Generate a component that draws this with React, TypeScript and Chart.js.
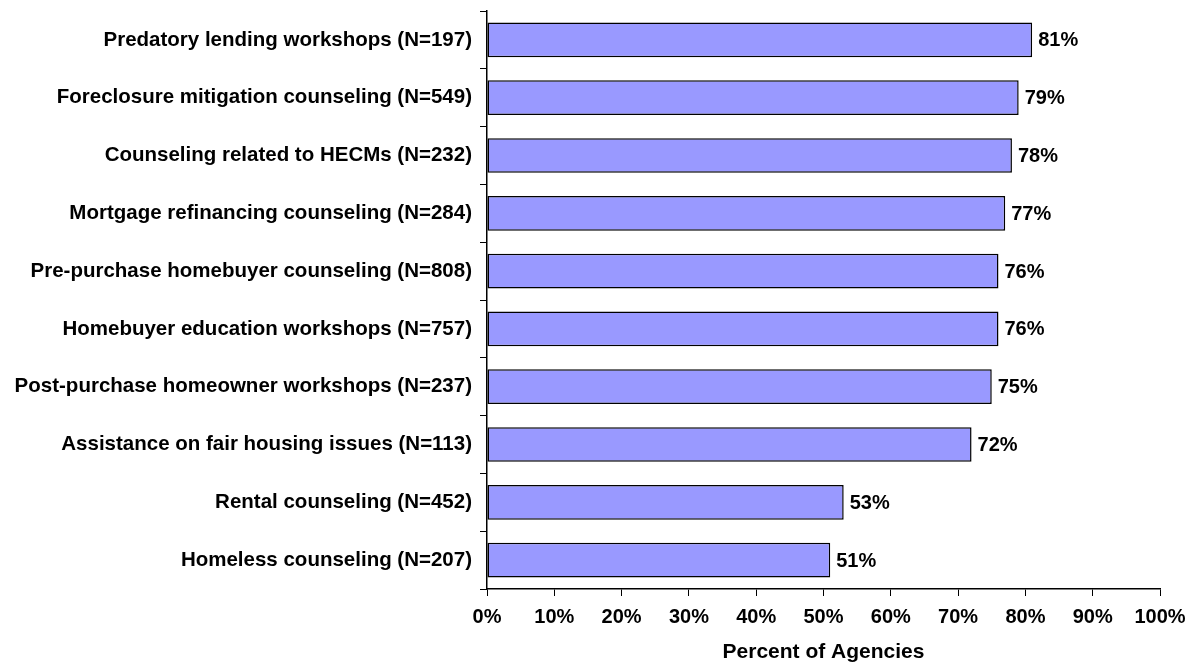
import React, { useEffect, useRef } from "react";
import { Chart, registerables } from "chart.js";

Chart.register(...registerables);

const categories = [
  "Predatory lending workshops (N=197)",
  "Foreclosure mitigation counseling (N=549)",
  "Counseling related to HECMs (N=232)",
  "Mortgage refinancing counseling (N=284)",
  "Pre-purchase homebuyer counseling (N=808)",
  "Homebuyer education workshops (N=757)",
  "Post-purchase homeowner workshops (N=237)",
  "Assistance on fair housing issues (N=113)",
  "Rental counseling (N=452)",
  "Homeless counseling (N=207)",
];
const percentValues = [81, 79, 78, 77, 76, 76, 75, 72, 53, 51];
const axisTitle = "Percent of Agencies";

const FONT = "'Liberation Sans', Arial, sans-serif";

const valueLabels = {
  id: "valueLabels",
  afterDatasetsDraw(chart: any) {
    const ctx = chart.ctx;
    const meta = chart.getDatasetMeta(0);
    ctx.save();
    ctx.font = `bold 20px ${FONT}`;
    ctx.fillStyle = "#000";
    ctx.textAlign = "left";
    ctx.textBaseline = "middle";
    meta.data.forEach((bar: any, i: number) => {
      ctx.fillText(`${percentValues[i]}%`, bar.x + 6, bar.y + 1);
    });
    ctx.restore();
  },
};

export default function App() {
  const ref = useRef<HTMLCanvasElement | null>(null);
  useEffect(() => {
    if (!ref.current) return;
    const chart = new Chart(ref.current, {
      type: "bar",
      data: {
        labels: categories,
        datasets: [
          {
            data: percentValues,
            backgroundColor: "#9999FF",
            borderColor: "#000000",
            borderWidth: 1.5,
            borderSkipped: false,
            categoryPercentage: 1,
            barPercentage: 0.6,
          },
        ],
      },
      options: {
        indexAxis: "y",
        responsive: false,
        animation: false,
        layout: { padding: { left: 0, right: 38, top: 11, bottom: 0 } },
        plugins: {
          legend: { display: false },
          tooltip: { enabled: false },
        },
        scales: {
          x: {
            min: 0,
            max: 100,
            afterFit: (s: any) => {
              s.height = 76;
            },
            border: { display: true, color: "#000", width: 1.5 },
            grid: { drawOnChartArea: false, drawTicks: true, tickLength: 7, color: "#000", lineWidth: 1 },
            ticks: {
              stepSize: 10,
              padding: 9,
              color: "#000",
              font: { family: FONT, size: 20, weight: "bold" },
              callback: (v: any) => `${v}%`,
            },
            title: {
              display: true,
              text: axisTitle,
              color: "#000",
              font: { family: FONT, size: 21, weight: "bold" },
              padding: { top: 0, bottom: 0 },
            },
          },
          y: {
            afterFit: (s: any) => {
              s.width = 487;
              s.paddingTop = 0;
              s.paddingBottom = 0;
            },
            border: { display: true, color: "#000", width: 1.5 },
            grid: { offset: true, drawOnChartArea: false, drawTicks: true, tickLength: 7, color: "#000", lineWidth: 1 },
            ticks: {
              padding: 8,
              color: "#000",
              font: { family: FONT, size: 20.5, weight: "bold" },
            },
          },
        },
      },
      plugins: [valueLabels],
    } as any);
    return () => chart.destroy();
  }, []);
  return (
    <canvas
      ref={ref}
      width={1198}
      height={665}
      style={{ position: "fixed", left: 0, top: 0, width: 1198, height: 665 }}
    />
  );
}
